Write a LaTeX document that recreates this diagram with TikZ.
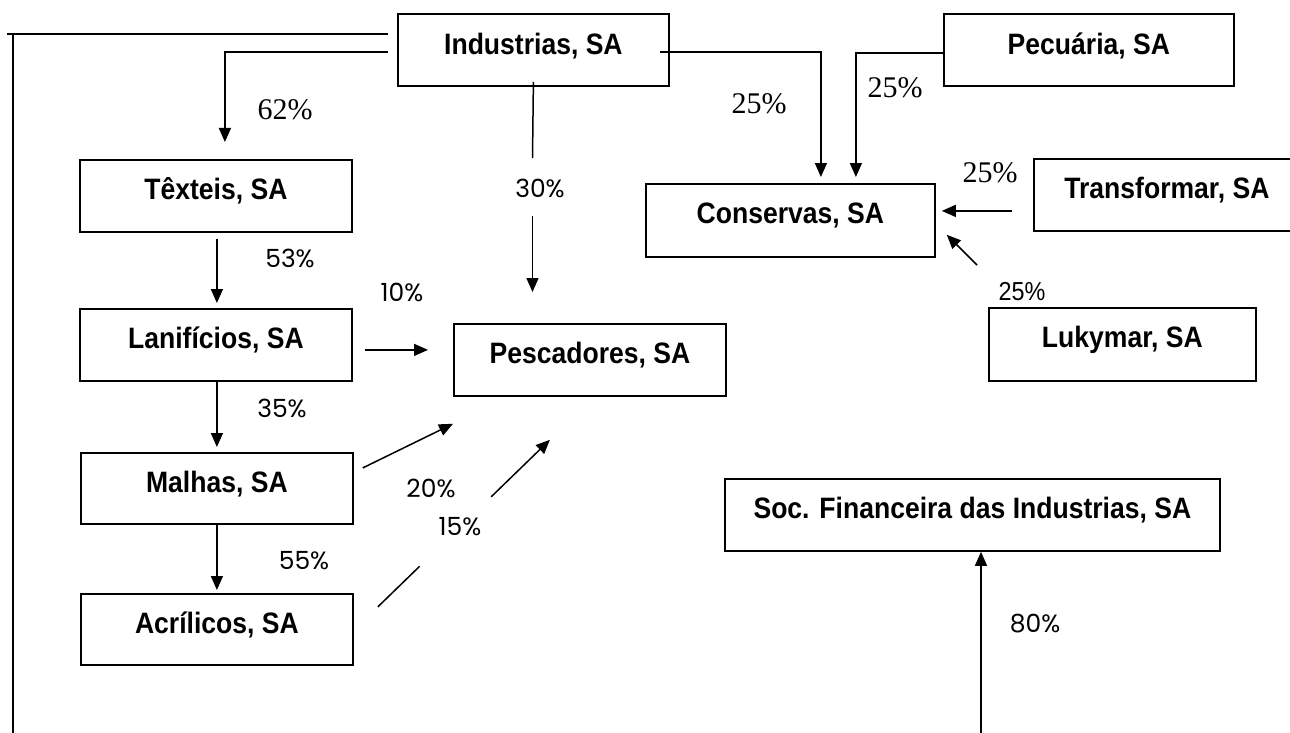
\documentclass[tikz,border=0pt]{standalone}
\usepackage{fontspec}
\setmainfont{Liberation Sans}
\newfontfamily\boxfont{Liberation Sans}[FakeStretch=0.9]
\newfontfamily\serifpct{Liberation Serif}
\newfontfamily\geopct{Poppins}
\newfontfamily\narpct{Liberation Sans}[FakeStretch=0.9]
\usetikzlibrary{arrows.meta,calc}
\tikzset{
  firm/.style={draw, line width=1.8pt, inner sep=0pt, anchor=north west,
    text height=40pt, text depth=32pt,
    font=\boxfont\bfseries\fontsize{29.5pt}{32pt}\selectfont},
  plain/.style={line width=1.5pt},
  conn/.style={line width=1.5pt, -{Triangle[length=14pt,width=12pt]}},
  pserif/.style={inner sep=0pt, font=\serifpct\fontsize{30pt}{32pt}\selectfont},
  pgeo/.style={inner sep=0pt, font=\geopct\fontsize{25pt}{27pt}\selectfont},
  pnar/.style={inner sep=0pt, font=\narpct\fontsize{26pt}{28pt}\selectfont}
}
\begin{document}
\begin{tikzpicture}[x=1pt,y=-1pt]
\useasboundingbox (0,0) rectangle (1290,733);
\fill[white] (0,0) rectangle (1290,733);
% boxes
\node[firm,minimum width=271pt,text height=41pt,text depth=31pt] (ind) at (397,13) {Industrias, SA};
\node[firm,minimum width=290pt,text height=41pt,text depth=31pt] (pec) at (943,13) {Pecuária, SA};
\node[firm,minimum width=272pt] (tex) at (79,159) {Têxteis, SA};
\node[firm,minimum width=289pt,text depth=33pt] (con) at (645,183) {Conservas, SA};
\node[firm,minimum width=266pt] (tra) at (1033,158) {Transformar, SA};
\node[firm,minimum width=272pt] (lan) at (79,308) {Lanifícios, SA};
\node[firm,minimum width=272pt] (pes) at (453,323) {Pescadores, SA};
\node[firm,minimum width=267pt,text depth=33pt] (luk) at (988,307) {Lukymar, SA};
\node[firm,minimum width=272pt,text depth=31pt] (mal) at (80,452) {Malhas, SA};
\node[firm,minimum width=495pt] (soc) at (724,478) {Soc. Financeira das Industrias, SA};
\node[firm,minimum width=272pt,text depth=31pt] (acr) at (80,593) {Acrílicos, SA};
% free ends
\coordinate (topL) at (7,34);
\coordinate (vTop) at (13,34);
\coordinate (vBot) at (13,733);
\coordinate (g30a) at (532.5,158);
\coordinate (g30b) at (532.5,216);
\coordinate (bot80) at (981,733);
% connectors
\draw[plain] ($(ind.north west)+(-9,21)$) -- (topL);
\draw[plain] (vTop) -- (vBot);
\draw[conn] ($(ind.north west)+(-9,39)$) -| ($(tex.north)+(9,-17)$);
\draw[plain] ($(ind.south)+(0,-5)$) -- (g30a);
\draw[conn] (g30b) -- (g30b |- {$(pes.north)+(0,-31)$});
\draw[conn] ($(ind.north east)+(-10,39)$) -| ($(con.north)+(30.5,-6)$);
\draw[conn] ($(pec.north west)+(0,40)$) -| ($(con.north)+(65.5,-6)$);
\draw[conn] ($(tra.west)+(-21,16)$) -- ($(con.east)+(6,-9.5)$);
\draw[conn] ($(luk.north west)+(-11,-42)$) -- ($(con.south east)+(11,-23)$);
\draw[conn] ($(tex.south)+(1,6)$) -- ($(lan.north)+(1,-5)$);
\draw[conn] ($(lan.south)+(1,0)$) -- ($(mal.north)+(0,-5)$);
\draw[conn] (mal.south) -- ($(acr.north)+(0,-3)$);
\draw[conn] ($(lan.east)+(12,5)$) -- ($(pes.west)+(-25,-10)$);
\draw[conn] ($(mal.east)+(9,-20.5)$) -- ($(pes.south west)+(0,27)$);
\coordinate (a15) at ($(acr.east)+(24,-22.5)$);
\coordinate (b15) at ($(pes.south)+(-40,43)$);
\draw[plain] (a15) -- ($(a15)!0.243!(b15)$);
\draw[conn] ($(a15)!0.659!(b15)$) -- (b15);
\draw[conn] (bot80) -- (bot80 |- soc.south);
% labels
\node[pserif] (l62) at (285,110) {62\%};
\node[pgeo] (l30) at (540,188) {30\%};
\node[pserif] (l25a) at (759,104) {25\%};
\node[pserif] (l25b) at (895,88) {25\%};
\node[pserif] (l25c) at (990,173) {25\%};
\node[pnar] (l25d) at (1022,292) {25\%};
\node[pgeo] (l53) at (290,258) {53\%};
\node[pgeo] (l10) at (402,292) {10\%};
\node[pgeo] (l35) at (282,408) {35\%};
\node[pgeo] (l20) at (431,488) {20\%};
\node[pgeo] (l15) at (460,527) {15\%};
\node[pgeo] (l55) at (304,561) {55\%};
\node[pgeo] (l80) at (1035,624) {80\%};
\end{tikzpicture}
\end{document}
